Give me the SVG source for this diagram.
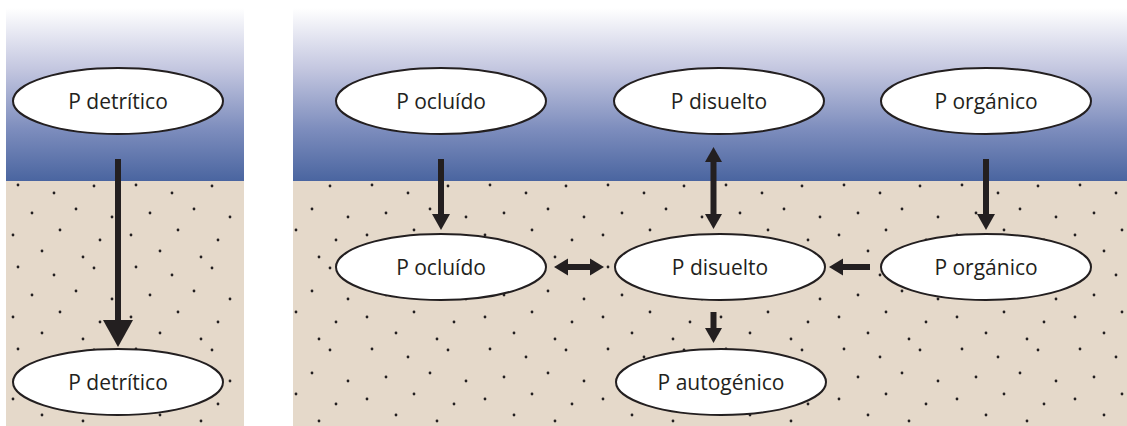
<svg xmlns="http://www.w3.org/2000/svg" width="1127" height="426" viewBox="0 0 1127 426">
<style>
.node ellipse{fill:#ffffff;stroke:#231f20;stroke-width:2}
.node text{font-family:"Open Sans","Liberation Sans",sans-serif;font-size:21px;fill:#231f20;text-anchor:middle;dominant-baseline:central}
.conn line{stroke:#231f20;stroke-width:6}
.conn path{fill:#231f20}
</style>
<defs>
<linearGradient id="water" x1="0" y1="0" x2="0" y2="1">
<stop offset="0" stop-color="#ffffff"/>
<stop offset="0.35" stop-color="#c4c7e0"/>
<stop offset="0.7" stop-color="#7d8dbd"/>
<stop offset="1" stop-color="#4a65a0"/>
</linearGradient>
<pattern id="dots" patternUnits="userSpaceOnUse" width="118" height="82" x="6" y="181">
<rect width="118" height="82" fill="#e5d9ca"/>
<g fill="#231f20">
<circle cx="12" cy="4" r="1.4"/>
<circle cx="48" cy="12" r="1.4"/>
<circle cx="88" cy="5" r="1.4"/>
<circle cx="26" cy="32" r="1.4"/>
<circle cx="70" cy="28" r="1.4"/>
<circle cx="106" cy="36" r="1.4"/>
<circle cx="7" cy="54" r="1.4"/>
<circle cx="54" cy="49" r="1.4"/>
<circle cx="94" cy="59" r="1.4"/>
<circle cx="36" cy="70" r="1.4"/>
<circle cx="77" cy="76" r="1.4"/>
</g>
</pattern>
</defs>
<rect width="1127" height="426" fill="#ffffff"/>
<g id="background">
<rect x="6" y="8" width="238" height="173" fill="url(#water)"/>
<rect x="6" y="181" width="238" height="245" fill="url(#dots)"/>
<rect x="293" y="8" width="834" height="173" fill="url(#water)"/>
<rect x="293" y="181" width="834" height="245" fill="url(#dots)"/>
</g>
<g id="connectors" class="conn">
<line x1="118" y1="159" x2="118" y2="322"/>
<path d="M103,320 L133,320 L118,347 Z"/>
<line x1="441" y1="159" x2="441" y2="216"/>
<path d="M432,214 L450,214 L441,230 Z"/>
<line x1="986" y1="159" x2="986" y2="216"/>
<path d="M977,214 L995,214 L986,230 Z"/>
<line x1="713.5" y1="160" x2="713.5" y2="216"/>
<path d="M705,162 L722,162 L713.5,147 Z"/>
<path d="M705,214 L722,214 L713.5,229 Z"/>
<line x1="566" y1="267" x2="592" y2="267"/>
<path d="M568,258.5 L568,275.5 L554,267 Z"/>
<path d="M590,258.5 L590,275.5 L604,267 Z"/>
<line x1="841" y1="267" x2="870" y2="267"/>
<path d="M843,258.5 L843,275.5 L829,267 Z"/>
<line x1="713.5" y1="312" x2="713.5" y2="330"/>
<path d="M705,328 L722,328 L713.5,343 Z"/>
</g>
<g id="n-detritico-top" class="node"><ellipse cx="118" cy="101" rx="105" ry="33"/><text x="118" y="101">P detrítico</text></g>
<g id="n-detritico-bottom" class="node"><ellipse cx="118" cy="382" rx="105" ry="33"/><text x="118" y="382">P detrítico</text></g>
<g id="n-ocluido-top" class="node"><ellipse cx="441" cy="101" rx="105" ry="33"/><text x="441" y="101">P ocluído</text></g>
<g id="n-disuelto-top" class="node"><ellipse cx="719" cy="101" rx="105" ry="33"/><text x="719" y="101">P disuelto</text></g>
<g id="n-organico-top" class="node"><ellipse cx="986" cy="101" rx="105" ry="33"/><text x="986" y="101">P orgánico</text></g>
<g id="n-ocluido-mid" class="node"><ellipse cx="441" cy="267" rx="105" ry="33"/><text x="441" y="267">P ocluído</text></g>
<g id="n-disuelto-mid" class="node"><ellipse cx="720" cy="267" rx="105" ry="33"/><text x="720" y="267">P disuelto</text></g>
<g id="n-organico-mid" class="node"><ellipse cx="986" cy="267" rx="105" ry="33"/><text x="986" y="267">P orgánico</text></g>
<g id="n-autogenico" class="node"><ellipse cx="721" cy="382" rx="105" ry="33"/><text x="721" y="382">P autogénico</text></g>
</svg>
